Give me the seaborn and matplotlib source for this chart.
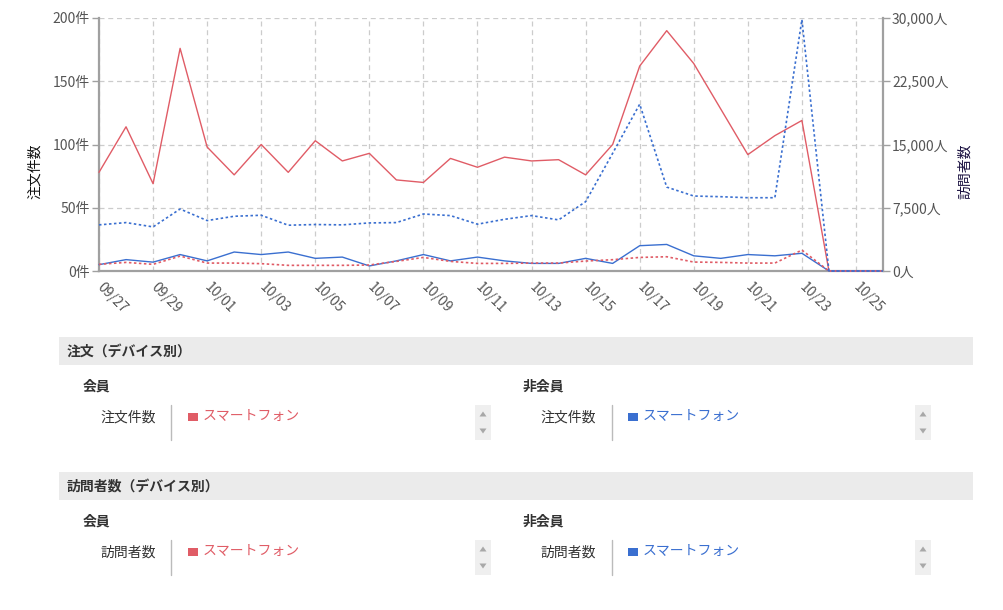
import matplotlib
matplotlib.use("Agg")
import matplotlib.pyplot as plt
import matplotlib.ticker as mticker
from matplotlib.patches import Rectangle, Polygon
from matplotlib.lines import Line2D
import seaborn as sns
import pandas as pd

# ---------------- data ----------------
dates = ["09/27", "09/28", "09/29", "09/30", "10/01", "10/02", "10/03", "10/04",
         "10/05", "10/06", "10/07", "10/08", "10/09", "10/10", "10/11", "10/12",
         "10/13", "10/14", "10/15", "10/16", "10/17", "10/18", "10/19", "10/20",
         "10/21", "10/22", "10/23", "10/24", "10/25", "10/26"]

member_orders = [78, 114, 69, 176, 98, 76, 100, 78, 103, 87, 93, 72, 70, 89, 82,
                 90, 87, 88, 76, 100, 162, 190, 164, 128, 92, 107, 119, 0, 0, 0]
nonmember_orders = [5, 9, 7, 13, 8, 15, 13, 15, 10, 11, 4, 8, 13, 8, 11,
                    8, 6, 6, 10, 6, 20, 21, 12, 10, 13, 12, 14, 0, 0, 0]
member_visitors = [790, 1020, 790, 1770, 940, 940, 870, 670, 670, 670, 710, 1140,
                   1610, 1140, 900, 900, 940, 940, 1180, 1340, 1610, 1690, 1060,
                   1020, 940, 940, 2480, 0, 0, 0]
nonmember_visitors = [5470, 5740, 5230, 7350, 5980, 6490, 6610, 5430, 5510, 5470,
                      5700, 5740, 6760, 6570, 5550, 6130, 6570, 6060, 8220, 13960,
                      19780, 9950, 8890, 8810, 8690, 8690, 29810, 0, 0, 0]

tick_labels = dates[::2]
left_ticks = [0, 50, 100, 150, 200]
right_ticks = [0, 7500, 15000, 22500, 30000]

RED = "#e05c66"
BLUE = "#3a6fd0"
GRAY_AX = "#a0a0a0"
TXT = "#555555"
FS = 10

df = pd.DataFrame({
    "date": dates,
    "member_orders": member_orders,
    "nonmember_orders": nonmember_orders,
    "member_visitors": member_visitors,
    "nonmember_visitors": nonmember_visitors,
})

sns.set_theme(style="white")
plt.rcParams["font.family"] = ["Noto Sans CJK JP", "DejaVu Sans"]

W, H = 1004, 610
fig = plt.figure(figsize=(W / 100, H / 100), dpi=100)


def fx(x):
    return x / W


def fy(y):
    return 1 - y / H


ax = fig.add_axes([fx(99), fy(271), fx(883) - fx(99), fy(18) - fy(271)])
ax2 = ax.twinx()

sns.lineplot(data=df, x="date", y="member_orders", ax=ax, color=RED, lw=1.0,
             sort=False, legend=False, zorder=3, clip_on=False)
sns.lineplot(data=df, x="date", y="nonmember_orders", ax=ax, color=BLUE, lw=1.0,
             sort=False, legend=False, zorder=3, clip_on=False)
sns.lineplot(data=df, x="date", y="member_visitors", ax=ax2, color=RED, lw=1.2,
             sort=False, legend=False, linestyle=(0, (1.5, 1.5)), zorder=3,
             clip_on=False)
sns.lineplot(data=df, x="date", y="nonmember_visitors", ax=ax2, color=BLUE, lw=1.2,
             sort=False, legend=False, linestyle=(0, (1.5, 1.5)), zorder=3,
             clip_on=False)

ax.set_xlim(0, len(dates) - 1)
ax.set_ylim(0, 200)
ax2.set_ylim(0, 30000)

ax.set_xticks(range(0, len(dates), 2))
ax.set_xticklabels(tick_labels, rotation=-45, ha="left", va="center",
                   rotation_mode="anchor", color=TXT, fontsize=FS)
ax.set_yticks(left_ticks)
ax.yaxis.set_major_formatter(mticker.FuncFormatter(lambda v, p: f"{int(v)}件"))
ax2.set_yticks(right_ticks)
ax2.yaxis.set_major_formatter(mticker.FuncFormatter(lambda v, p: f"{int(v):,}人"))

for a in (ax, ax2):
    a.set_xlabel("")
    a.tick_params(axis="both", colors=GRAY_AX, labelcolor=TXT, labelsize=FS,
                  length=5, width=1, direction="out", pad=1.5)
    a.spines["top"].set_visible(False)
    for s in ("left", "right", "bottom"):
        a.spines[s].set_color(GRAY_AX)
        a.spines[s].set_linewidth(1.6)
        a.spines[s].set_zorder(2)

ax.spines["right"].set_visible(False)
ax2.spines["left"].set_visible(False)
ax2.spines["bottom"].set_visible(False)

ax.tick_params(axis="x", pad=5)
ax.grid(True, color="#cccccc", linestyle=(0, (4, 3)), linewidth=0.9)
ax2.grid(False)
ax.set_axisbelow(True)

ax.set_ylabel("注文件数", fontsize=FS, color="#111111")
ax.yaxis.set_label_coords((42 - 99) / 784, (271 - 171) / 253)
ax2.set_ylabel("訪問者数", fontsize=FS, color="#1a1040", rotation=90)
ax2.yaxis.set_label_coords((958 - 99) / 784, (271 - 171) / 253)

# ---------------- lower panel (legend-like selectors) ----------------
def rect(x0, y0, x1, y1, color):
    fig.patches.append(Rectangle((fx(x0), fy(y1)), fx(x1) - fx(x0), fy(y0) - fy(y1),
                                 transform=fig.transFigure, facecolor=color,
                                 edgecolor="none", zorder=0))


def vline(x, y0, y1):
    fig.lines.append(Line2D([fx(x), fx(x)], [fy(y0), fy(y1)], transform=fig.transFigure,
                            color="#bbbbbb", lw=1))


def scroll(x0, y0, x1, y1):
    rect(x0, y0, x1, y1, "#efefef")
    cx = (x0 + x1) / 2
    up = y0 + 9
    dn = y1 - 9
    fig.patches.append(Polygon([(fx(cx - 3.5), fy(up + 2.5)), (fx(cx + 3.5), fy(up + 2.5)),
                                (fx(cx), fy(up - 2.5))], closed=True,
                               transform=fig.transFigure, facecolor="#a8a8a8",
                               edgecolor="none"))
    fig.patches.append(Polygon([(fx(cx - 3.5), fy(dn - 2.5)), (fx(cx + 3.5), fy(dn - 2.5)),
                                (fx(cx), fy(dn + 2.5))], closed=True,
                               transform=fig.transFigure, facecolor="#a8a8a8",
                               edgecolor="none"))


def section(top, title, metric):
    rect(59, top, 973, top + 28, "#ebebeb")
    fig.text(fx(67), fy(top + 15), title, fontsize=FS, fontweight="bold",
             color="#333333", va="center", ha="left")
    for xoff, group, color in ((0, "会員", RED), (440, "非会員", BLUE)):
        fig.text(fx(83 + xoff), fy(top + 50), group, fontsize=FS, fontweight="bold",
                 color="#333333", va="center", ha="left")
        rowy = top + 81
        fig.text(fx(156 + xoff), fy(rowy), metric, fontsize=FS, color="#333333",
                 va="center", ha="right")
        vline(171.5 + xoff, top + 68, top + 103)
        rect(188 + xoff, rowy - 5, 198 + xoff, rowy + 3, color)
        fig.text(fx(203 + xoff), fy(rowy - 2), "スマートフォン", fontsize=FS,
                 color=color, va="center", ha="left")
        scroll(475 + xoff, top + 68, 491 + xoff, top + 103)


section(337, "注文（デバイス別）", "注文件数")
section(472, "訪問者数（デバイス別）", "訪問者数")

fig.savefig("out.png", dpi=100)
